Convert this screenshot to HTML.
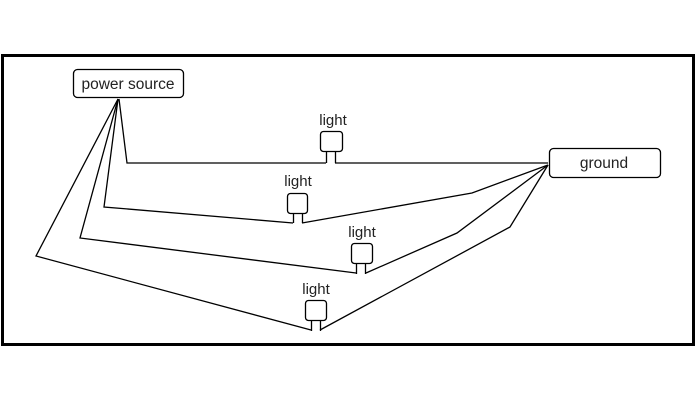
<!DOCTYPE html>
<html><head><style>
html,body{margin:0;padding:0;background:#fff;}
svg{display:block;}
text{font-family:"Liberation Sans",sans-serif;fill:#222;}
</style></head><body>
<svg width="696" height="400" viewBox="0 0 696 400">
<rect x="2.5" y="55.5" width="691" height="289" fill="#fff" stroke="#000" stroke-width="3"/>
<g fill="none" stroke="#000" stroke-width="1.3">
<rect x="73.5" y="69.5" width="110" height="28" rx="4"/>
<rect x="549.5" y="148.5" width="111" height="29" rx="4"/>
<rect x="320.5" y="131.5" width="22" height="20" rx="3"/>
<path d="M326.5 151.5V163M335.5 151.5V163"/>
<path d="M119 99L127 163H326M335 163H548"/>
<rect x="287.5" y="193.5" width="20" height="20" rx="3"/>
<path d="M293.5 213.5V223M302.5 213.5V223"/>
<path d="M118 99L104 207L293 223M302 223L472 193L548 165"/>
<rect x="351.5" y="243.5" width="21" height="20" rx="3"/>
<path d="M356.5 263.5V274M365.5 263.5V274"/>
<path d="M118 99L80 238L356 273M366 273L457 233L548 165"/>
<rect x="305.5" y="300.5" width="21" height="20" rx="3"/>
<path d="M311.5 320.5V331M320.5 320.5V331"/>
<path d="M118 99L36 256L311 330M320 330L510 227L548 165"/>
</g>
<text x="128" y="89" font-size="15.5" text-anchor="middle">power source</text>
<text x="604" y="168" font-size="15.5" text-anchor="middle">ground</text>
<text x="333" y="125" font-size="15" text-anchor="middle">light</text>
<text x="298" y="186" font-size="15" text-anchor="middle">light</text>
<text x="362" y="237" font-size="15" text-anchor="middle">light</text>
<text x="316" y="294" font-size="15" text-anchor="middle">light</text>
</svg>
</body></html>
